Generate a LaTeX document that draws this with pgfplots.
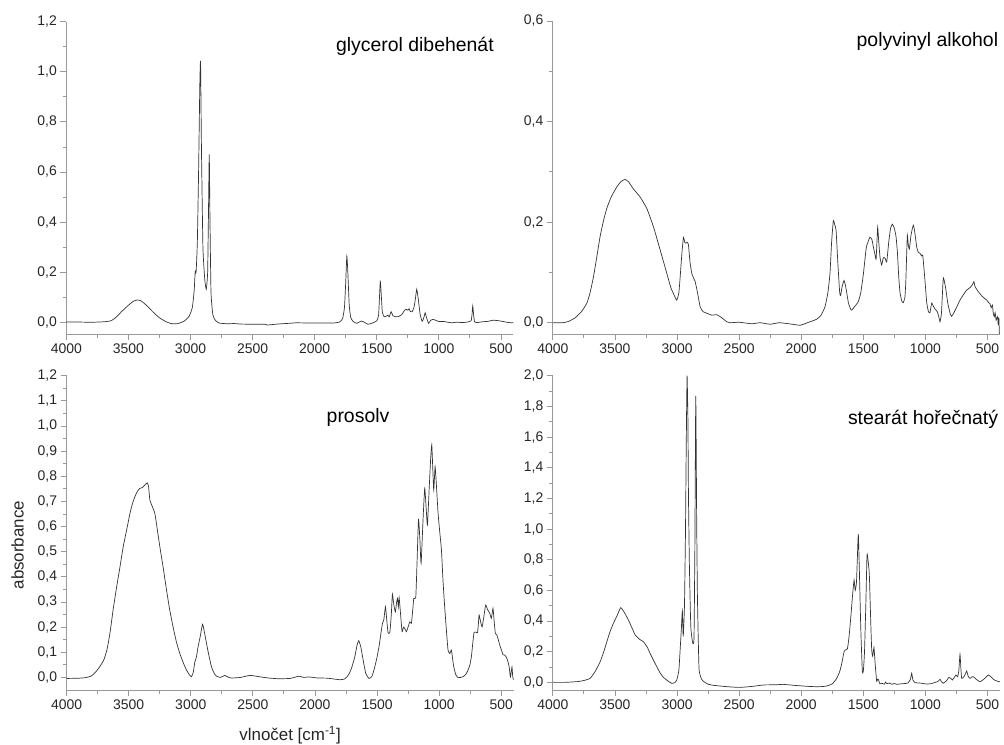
\documentclass[border=0pt]{standalone}
\usepackage{fontspec}
\setmainfont{Liberation Sans}
\usepackage{pgfplots}
\pgfplotsset{compat=1.18}
\usepackage{pgfplotstable}

\pgfplotstableread{
x y
4000 0.001
3900 0.001
3800 0.000
3700 0.002
3640 0.006
3600 0.02
3550 0.045
3500 0.068
3460 0.084
3430 0.089
3400 0.086
3360 0.07
3300 0.04
3250 0.018
3200 0.003
3150 -0.006
3100 -0.005
3050 0.005
3010 0.025
2985 0.06
2970 0.13
2962 0.205
2955 0.2
2945 0.32
2935 0.6
2925 0.95
2919 1.04
2912 0.7
2900 0.3
2885 0.17
2873 0.132
2862 0.2
2855 0.45
2849 0.67
2843 0.4
2835 0.12
2820 0.03
2800 0.008
2770 -0.003
2700 -0.006
2650 -0.005
2600 -0.007
2500 -0.008
2400 -0.008
2380 -0.011
2300 -0.007
2200 -0.004
2150 -0.002
2050 -0.003
1950 -0.003
1850 -0.003
1800 0.001
1775 0.015
1760 0.06
1750 0.16
1741 0.265
1733 0.2
1722 0.07
1710 0.02
1690 0.003
1660 -0.004
1625 0.005
1600 0.0
1570 -0.008
1530 -0.002
1500 0.006
1485 0.03
1472 0.163
1465 0.12
1455 0.04
1440 0.022
1420 0.025
1411 0.029
1400 0.022
1384 0.042
1370 0.026
1350 0.022
1330 0.022
1300 0.03
1280 0.045
1263 0.052
1250 0.048
1240 0.054
1230 0.043
1215 0.042
1200 0.06
1190 0.09
1178 0.132
1165 0.09
1150 0.03
1134 0.004
1120 0.02
1110 0.038
1100 0.02
1083 -0.004
1065 0.008
1049 0.012
1020 0.007
1000 0.003
960 0.003
900 -0.002
860 0.0
800 -0.001
760 0.002
740 0.006
733 0.03
727 0.065
720 0.03
712 0.002
690 -0.001
650 0.002
600 0.004
566 0.008
530 0.007
480 0.003
440 -0.001
400 -0.002
}\glycerol

\pgfplotstableread{
x y
4000 0.0
3920 0.0
3870 0.003
3820 0.01
3770 0.022
3726 0.039
3700 0.06
3673 0.091
3650 0.125
3619 0.172
3590 0.205
3565 0.228
3530 0.25
3485 0.27
3450 0.281
3418 0.285
3390 0.28
3351 0.266
3297 0.25
3243 0.227
3190 0.191
3136 0.145
3082 0.098
3050 0.07
3029 0.058
3002 0.045
2985 0.06
2975 0.09
2960 0.14
2948 0.17
2938 0.16
2929 0.158
2918 0.16
2908 0.155
2895 0.12
2881 0.098
2865 0.088
2854 0.082
2835 0.06
2814 0.032
2790 0.022
2760 0.019
2720 0.015
2680 0.016
2640 0.01
2600 0.002
2573 0.0
2500 0.001
2400 -0.002
2330 0.0
2250 -0.003
2180 0.0
2100 -0.002
2009 -0.005
1950 0.0
1875 0.007
1840 0.015
1808 0.032
1785 0.06
1768 0.098
1755 0.16
1741 0.203
1730 0.195
1719 0.184
1705 0.12
1690 0.06
1682 0.054
1672 0.07
1655 0.084
1640 0.07
1620 0.04
1600 0.026
1593 0.025
1570 0.032
1540 0.042
1520 0.06
1500 0.095
1475 0.15
1446 0.17
1430 0.165
1419 0.151
1405 0.135
1397 0.126
1390 0.16
1384 0.19
1375 0.16
1365 0.13
1352 0.115
1340 0.128
1333 0.13
1322 0.127
1311 0.121
1295 0.16
1280 0.188
1266 0.196
1250 0.188
1236 0.171
1225 0.14
1214 0.09
1204 0.06
1190 0.043
1178 0.04
1165 0.05
1158 0.078
1150 0.14
1145 0.174
1137 0.155
1129 0.146
1115 0.175
1097 0.194
1085 0.18
1070 0.151
1057 0.14
1043 0.138
1030 0.133
1021 0.134
1005 0.09
989 0.04
975 0.022
963 0.02
949 0.039
936 0.033
922 0.027
904 0.022
890 0.01
882 0.002
870 0.02
856 0.088
845 0.08
834 0.065
820 0.04
800 0.018
788 0.013
770 0.02
750 0.03
721 0.045
690 0.057
667 0.065
640 0.07
620 0.076
609 0.082
600 0.072
574 0.062
540 0.052
506 0.045
490 0.04
480 0.038
470 0.03
460 0.035
453 0.019
445 0.012
438 0.02
430 0.005
426 0.008
418 0.012
413 -0.005
408 0.01
404 -0.02
400 -0.022
}\pva

\pgfplotstableread{
x y
4000 -0.004
3900 -0.003
3850 -0.001
3800 0.006
3760 0.025
3730 0.045
3700 0.07
3675 0.11
3651 0.175
3625 0.27
3597 0.36
3570 0.44
3544 0.52
3515 0.59
3490 0.652
3470 0.69
3450 0.719
3430 0.74
3410 0.752
3390 0.755
3370 0.765
3351 0.774
3340 0.76
3329 0.705
3310 0.68
3289 0.652
3270 0.59
3249 0.52
3220 0.43
3195 0.347
3170 0.27
3142 0.2
3115 0.14
3088 0.095
3060 0.058
3034 0.029
3010 0.01
2994 0.003
2980 0.02
2967 0.062
2955 0.08
2941 0.122
2925 0.16
2905 0.211
2890 0.18
2873 0.135
2855 0.09
2833 0.042
2810 0.015
2792 0.005
2760 0.0
2726 0.008
2690 -0.001
2660 -0.002
2600 0.0
2524 0.008
2450 0.003
2380 -0.002
2300 -0.005
2200 -0.004
2130 0.005
2090 0.0
2050 0.002
1980 -0.002
1900 -0.003
1850 -0.006
1800 -0.009
1760 -0.006
1730 0.01
1706 0.036
1680 0.08
1660 0.13
1647 0.146
1630 0.12
1607 0.056
1590 0.015
1564 -0.004
1540 0.005
1518 0.042
1500 0.08
1484 0.122
1470 0.17
1456 0.215
1445 0.23
1432 0.281
1420 0.22
1411 0.178
1397 0.178
1385 0.25
1376 0.331
1365 0.29
1352 0.261
1342 0.3
1335 0.314
1328 0.28
1322 0.318
1310 0.25
1298 0.182
1287 0.2
1277 0.195
1263 0.182
1250 0.2
1236 0.221
1223 0.215
1212 0.27
1204 0.314
1188 0.318
1178 0.45
1166 0.629
1155 0.55
1145 0.454
1130 0.62
1116 0.752
1105 0.68
1094 0.606
1080 0.75
1068 0.87
1059 0.925
1050 0.82
1043 0.745
1032 0.838
1020 0.75
1008 0.652
995 0.58
981 0.506
968 0.38
955 0.281
940 0.18
928 0.109
914 0.095
901 0.109
890 0.07
882 0.042
865 0.01
847 -0.001
827 0.0
807 0.003
785 0.012
767 0.029
752 0.05
740 0.082
730 0.13
719 0.178
705 0.18
691 0.178
684 0.21
678 0.248
665 0.22
654 0.201
640 0.24
625 0.288
610 0.27
592 0.255
579 0.235
566 0.275
556 0.22
547 0.175
536 0.17
526 0.155
512 0.13
498 0.109
485 0.09
472 0.089
458 0.08
445 0.062
435 0.04
426 0.002
418 0.025
413 0.042
408 0.01
405 -0.003
400 -0.01
}\prosolv

\pgfplotstableread{
x y
4000 0.0
3900 0.0
3800 0.005
3750 0.012
3700 0.026
3660 0.07
3619 0.134
3590 0.2
3565 0.265
3540 0.33
3512 0.385
3480 0.44
3453 0.487
3420 0.45
3391 0.406
3360 0.35
3337 0.309
3300 0.28
3271 0.265
3240 0.23
3217 0.189
3190 0.145
3163 0.102
3135 0.06
3110 0.033
3075 0.01
3042 -0.007
3020 -0.003
3002 0.015
2985 0.08
2975 0.21
2965 0.35
2957 0.467
2950 0.3
2940 0.5
2932 0.972
2925 1.6
2919 2.0
2912 1.7
2908 1.233
2900 0.75
2889 0.363
2873 0.254
2863 0.297
2856 0.9
2849 1.868
2842 1.1
2836 0.58
2828 0.25
2822 0.08
2805 0.025
2788 0.007
2750 -0.012
2700 -0.02
2600 -0.028
2500 -0.033
2400 -0.027
2300 -0.017
2200 -0.016
2150 -0.013
2050 -0.02
1950 -0.026
1900 -0.028
1840 -0.028
1794 -0.024
1750 -0.01
1714 0.026
1690 0.07
1673 0.124
1655 0.2
1647 0.21
1628 0.218
1617 0.28
1607 0.363
1595 0.48
1585 0.58
1574 0.667
1565 0.6
1555 0.65
1548 0.8
1540 0.967
1532 0.75
1520 0.35
1508 0.08
1500 0.069
1490 0.2
1478 0.55
1470 0.83
1462 0.8
1451 0.7
1440 0.4
1432 0.21
1424 0.17
1414 0.228
1405 0.13
1392 0.006
1385 0.02
1379 0.02
1366 -0.01
1350 -0.006
1330 -0.012
1320 0.002
1310 -0.008
1290 -0.005
1270 -0.012
1250 -0.008
1230 -0.013
1200 -0.01
1170 -0.008
1140 -0.004
1120 0.02
1110 0.059
1100 0.015
1083 -0.002
1040 -0.005
989 -0.011
950 -0.008
920 0.0
900 0.005
882 0.02
870 0.003
856 -0.006
830 0.01
810 0.033
795 0.025
783 0.015
765 0.035
753 0.048
740 0.037
730 0.08
721 0.183
713 0.08
707 0.026
689 0.037
675 0.06
667 0.074
655 0.04
641 0.026
625 0.035
614 0.037
590 0.02
560 0.004
530 0.02
510 0.035
493 0.048
470 0.035
453 0.02
430 0.01
405 0.004
400 0.004
}\stearat

\pgfplotsset{
  spec/.style={
    scale only axis,
    width=447bp,
    x dir=reverse,
    xmin=400, xmax=4000,
    axis lines=left,
    axis line style={-, draw=black!40, line width=0.8bp},
    tick align=outside,
    xtick={500,1000,1500,2000,2500,3000,3500,4000},
    minor x tick num=1,
    minor y tick num=1,
    major tick length=6bp, minor tick length=3.5bp,
    every tick/.style={draw=black!40, line width=0.8bp},
    /pgf/number format/assume math mode=true,
    x tick label style={/pgf/number format/1000 sep={}},
    y tick label style={/pgf/number format/.cd, use comma, fixed, fixed zerofill, precision=1},
    tick label style={font=\fontsize{14}{16}\selectfont, text=black!85},
  },
  spc/.style={draw=black!80, line width=0.7bp, mark=none, smooth, tension=0.3},
}
\tikzset{ttl/.style={font=\fontsize{19.5}{22}\selectfont, text=black}}

\begin{document}
\begin{tikzpicture}
\useasboundingbox (0,0) rectangle (1004bp,-745bp);

\begin{axis}[spec, height=312.6bp, at={(289.85bp,-178bp)}, anchor=center,
  ymin=-0.048, ymax=1.2, ytick={0,0.2,0.4,0.6,0.8,1.0,1.2}]
  \addplot[spc] table[x=x,y=y] {\glycerol};
  \node[ttl, anchor=base east] at (axis description cs:0.964,0.904) {glycerol dibehenát};
\end{axis}

\begin{axis}[spec, height=313.3bp, at={(776.35bp,-177.65bp)}, anchor=center,
  ymin=-0.023, ymax=0.6, ytick={0,0.2,0.4,0.6}]
  \addplot[spc] table[x=x,y=y] {\pva};
  \node[ttl, anchor=base east] at (axis description cs:1.004,0.920) {polyvinyl alkohol};
\end{axis}

\begin{axis}[spec, height=314.3bp, at={(290.1bp,-532.85bp)}, anchor=center,
  ymin=-0.05, ymax=1.2,
  ytick={0,0.1,0.2,0.3,0.4,0.5,0.6,0.7,0.8,0.9,1.0,1.1,1.2},
  xlabel={vlnočet [cm\textsuperscript{-1}]},
  ylabel={absorbance},
  label style={font=\fontsize{17}{20}\selectfont, text=black!85},
  x label style={at={(axis description cs:0.5,0)}, anchor=center, yshift=-45bp},
  y label style={at={(axis description cs:0,0.461)}, anchor=center, yshift=49bp}]
  \addplot[spc] table[x=x,y=y] {\prosolv};
  \node[ttl, anchor=base] at (axis description cs:0.652,0.850) {prosolv};
\end{axis}

\begin{axis}[spec, height=314.3bp, at={(776.35bp,-532.85bp)}, anchor=center,
  ymin=-0.05, ymax=2.0,
  ytick={0,0.2,0.4,0.6,0.8,1.0,1.2,1.4,1.6,1.8,2.0}]
  \addplot[spc] table[x=x,y=y] {\stearat};
  \node[ttl, anchor=base east] at (axis description cs:1.004,0.845) {stearát hořečnatý};
\end{axis}
\end{tikzpicture}
\end{document}
